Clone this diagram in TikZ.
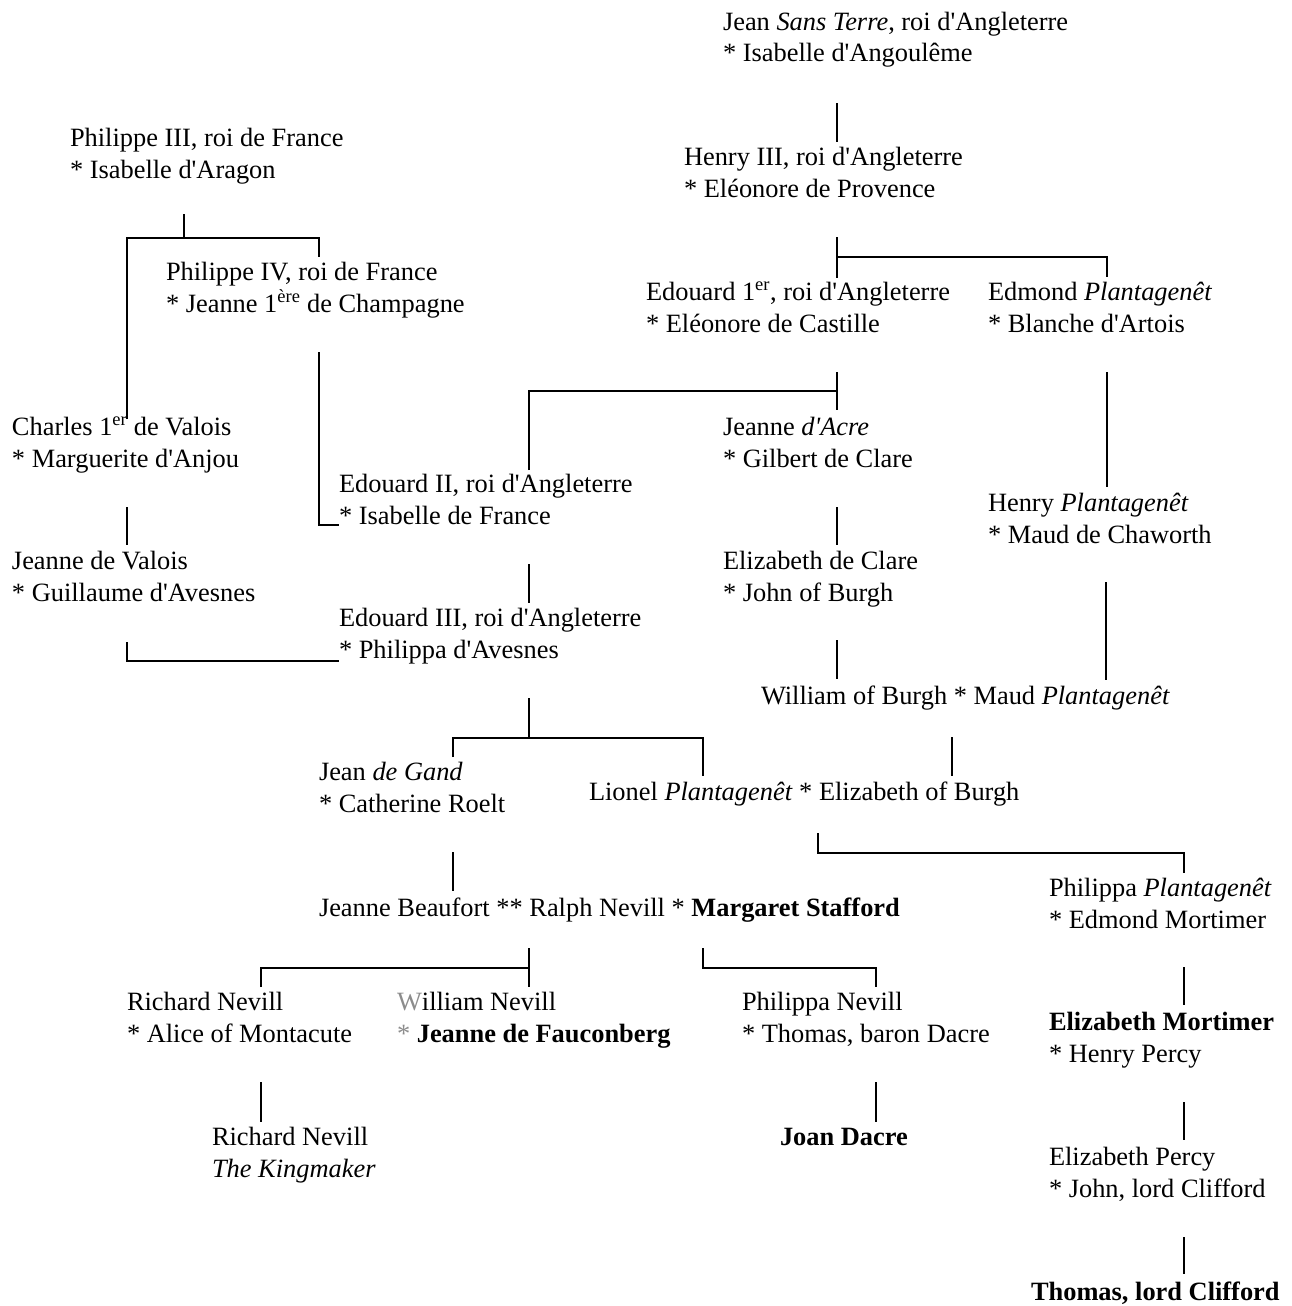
\documentclass[tikz,border=0pt]{standalone}
\usepackage{fontspec}
\setmainfont{Liberation Serif}[Ligatures=TeXOff]
\begin{document}
\begin{tikzpicture}[x=1pt,y=-1pt,
  % a person box is placed by the baseline of its first line;
  % the strut in that line fixes the height above the baseline
  person/.style={anchor=north west, inner sep=0pt, outer sep=0pt, align=left,
    yshift=22.4pt, font=\fontsize{26.4}{32}\selectfont},
  link/.style={line width=1.6pt},
  faded/.style={black!45}]
\useasboundingbox (0,0) rectangle (1292,1306);

% ---- people ----
\node[person] (js) at (723,30) {\strut Jean \textit{Sans Terre}, roi d'Angleterre\\{}* Isabelle d'Angoulême};
\node[person] (h3) at (684,165) {\strut Henry III, roi d'Angleterre\\{}* Eléonore de Provence};
\node[person] (p3) at (70,146) {\strut Philippe III, roi de France\\{}* Isabelle d'Aragon};
\node[person] (p4) at (166,280) {\strut Philippe IV, roi de France\\{}* Jeanne 1\textsuperscript{ère} de Champagne};
\node[person] (e1) at (646,300) {\strut Edouard 1\textsuperscript{er}, roi d'Angleterre\\{}* Eléonore de Castille};
\node[person] (ed) at (988,300) {\strut Edmond \textit{Plantagenêt}\\{}* Blanche d'Artois};
\node[person] (c1) at (12,435) {\strut Charles 1\textsuperscript{er} de Valois\\{}* Marguerite d'Anjou};
\node[person] (ja) at (723,435) {\strut Jeanne \textit{d'Acre}\\{}* Gilbert de Clare};
\node[person] (e2) at (339,492) {\strut Edouard II, roi d'Angleterre\\{}* Isabelle de France};
\node[person] (hp) at (988,511) {\strut Henry \textit{Plantagenêt}\\{}* Maud de Chaworth};
\node[person] (jv) at (12,569) {\strut Jeanne de Valois\\{}* Guillaume d'Avesnes};
\node[person] (ec) at (723,569) {\strut Elizabeth de Clare\\{}* John of Burgh};
\node[person] (e3) at (339,626) {\strut Edouard III, roi d'Angleterre\\{}* Philippa d'Avesnes};
\node[person] (wb) at (761,704) {\strut William of Burgh * Maud \textit{Plantagenêt}};
\node[person] (jg) at (319,780) {\strut Jean \textit{de Gand}\\{}* Catherine Roelt};
\node[person] (lp) at (589,800) {\strut Lionel \textit{Plantagenêt} * Elizabeth of Burgh};
\node[person] (jb) at (319,916) {\strut Jeanne Beaufort ** Ralph Nevill * \textbf{Margaret Stafford}};
\node[person] (pp) at (1049,896) {\strut Philippa \textit{Plantagenêt}\\{}* Edmond Mortimer};
\node[person] (rn) at (127,1010) {\strut Richard Nevill\\{}* Alice of Montacute};
\node[person] (wn) at (397,1010) {\strut\textcolor{black!45}{W}illiam Nevill\\{}\textcolor{black!45}{*} \textbf{Jeanne de Fauconberg}};
\node[person] (pn) at (742,1010) {\strut Philippa Nevill\\{}* Thomas, baron Dacre};
\node[person] (em) at (1049,1030) {\strut\textbf{Elizabeth Mortimer}\\{}* Henry Percy};
\node[person] (rk) at (212,1145) {\strut Richard Nevill\\{}\textit{The Kingmaker}};
\node[person] (jd) at (780,1145) {\strut\textbf{Joan Dacre}};
\node[person] (ep) at (1049,1165) {\strut Elizabeth Percy\\{}* John, lord Clifford};
\node[person] (tc) at (1031,1300) {\strut\textbf{Thomas, lord Clifford}};

% ---- connector ends and junctions ----
\path (837,103) coordinate (js-o)  (837,142) coordinate (h3-i)
      (837,237) coordinate (h3-o)  (837,278) coordinate (e1-i)
      (837,257) coordinate (h3-j)  (1107,277) coordinate (ed-i)
      (184,214) coordinate (p3-o)  (184,238) coordinate (p3-j)
      (127,419) coordinate (c1-i)  (319,257) coordinate (p4-i)
      (319,352) coordinate (p4-o)  (339,525) coordinate (e2-s)
      (837,372) coordinate (e1-o)  (837,410) coordinate (ja-i)
      (837,391) coordinate (e1-j)  (529,470) coordinate (e2-i)
      (1107,372) coordinate (ed-o) (1107,487) coordinate (hp-i)
      (127,507) coordinate (c1-o)  (127,545) coordinate (jv-i)
      (127,642) coordinate (jv-o)  (339,661) coordinate (e3-s)
      (837,507) coordinate (ja-o)  (837,545) coordinate (ec-i)
      (837,640) coordinate (ec-o)  (837,679) coordinate (wb-i)
      (1106,582) coordinate (hp-o) (1106,680) coordinate (wb-s)
      (529,564) coordinate (e2-o)  (529,603) coordinate (e3-i)
      (529,698) coordinate (e3-o)  (529,738) coordinate (e3-j)
      (453,757) coordinate (jg-i)  (703,776) coordinate (lp-i)
      (952,737) coordinate (wb-o)  (952,776) coordinate (lp-s)
      (818,833) coordinate (lp-o)  (1001,853) coordinate (lp-j)
      (1184,873) coordinate (pp-i)
      (453,852) coordinate (jg-o)  (453,891) coordinate (jb-i)
      (529,948) coordinate (jb-o)  (529,968) coordinate (jb-j)
      (529,987) coordinate (wn-i)  (261,987) coordinate (rn-i)
      (703,948) coordinate (ms-o)  (790,968) coordinate (ms-j)
      (876,987) coordinate (pn-i)
      (261,1082) coordinate (rn-o) (261,1122) coordinate (rk-i)
      (876,1082) coordinate (pn-o) (876,1122) coordinate (jd-i)
      (1184,967) coordinate (pp-o) (1184,1005) coordinate (em-i)
      (1184,1102) coordinate (em-o) (1184,1140) coordinate (ep-i)
      (1184,1237) coordinate (ep-o) (1184,1274) coordinate (tc-i);

% ---- descent lines ----
\draw[link] (js-o) -- (h3-i);
\draw[link] (h3-o) -- (e1-i);
\draw[link] (h3-j) -| (ed-i);
\draw[link] (p3-o) -- (p3-j);
\draw[link] (c1-i) |- (p3-j) -| (p4-i);
\draw[link] (p4-o) |- (e2-s);
\draw[link] (e1-o) -- (ja-i);
\draw[link] (e2-i) |- (e1-j);
\draw[link] (ed-o) -- (hp-i);
\draw[link] (c1-o) -- (jv-i);
\draw[link] (jv-o) |- (e3-s);
\draw[link] (ja-o) -- (ec-i);
\draw[link] (ec-o) -- (wb-i);
\draw[link] (hp-o) -- (wb-s);
\draw[link] (e2-o) -- (e3-i);
\draw[link] (e3-o) -- (e3-j);
\draw[link] (jg-i) |- (e3-j) -| (lp-i);
\draw[link] (wb-o) -- (lp-s);
\draw[link] (lp-o) |- (lp-j) -| (pp-i);
\draw[link] (jg-o) -- (jb-i);
\draw[link] (jb-o) -- (wn-i);
\draw[link] (rn-i) |- (jb-j);
\draw[link] (ms-o) |- (ms-j) -| (pn-i);
\draw[link] (rn-o) -- (rk-i);
\draw[link] (pn-o) -- (jd-i);
\draw[link] (pp-o) -- (em-i);
\draw[link] (em-o) -- (ep-i);
\draw[link] (ep-o) -- (tc-i);
\end{tikzpicture}
\end{document}
